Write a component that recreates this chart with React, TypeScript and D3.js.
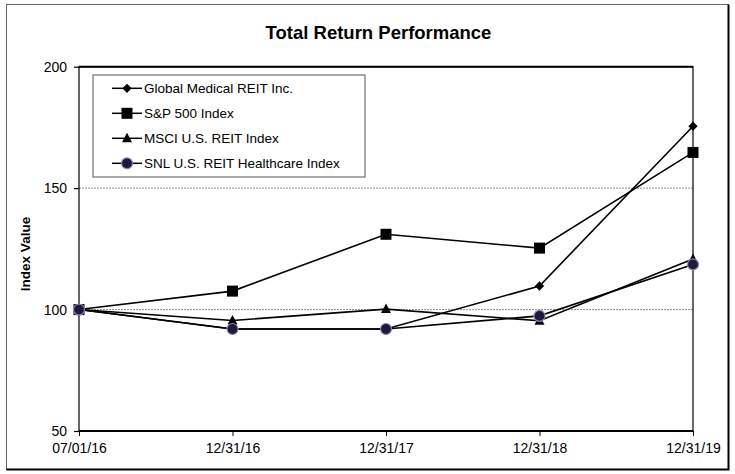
import { FC, useEffect, useRef } from 'react';
import * as d3 from 'd3';

const periods = ['07/01/16', '12/31/16', '12/31/17', '12/31/18', '12/31/19'];
const globalMedical = [100, 92, 92, 109.7, 175.5];
const sp500 = [100, 107.6, 131, 125.3, 164.7];
const msciReit = [100, 95.5, 100.2, 95.4, 120.8];
const snlHealthcare = [100, 92, 92, 97.4, 118.6];
const yTicks = [50, 100, 150, 200];
const gridValues = [100, 150];

type Marker = 'diamond' | 'square' | 'triangle' | 'circle';

interface Series {
  name: string;
  values: number[];
  marker: Marker;
}

const series: Series[] = [
  { name: 'Global Medical REIT Inc.', values: globalMedical, marker: 'diamond' },
  { name: 'S&P 500 Index', values: sp500, marker: 'square' },
  { name: 'MSCI U.S. REIT Index', values: msciReit, marker: 'triangle' },
  { name: 'SNL U.S. REIT Healthcare Index', values: snlHealthcare, marker: 'circle' },
];

const FONT = 'Arial, "Liberation Sans", sans-serif';

const drawMarker = (
  g: d3.Selection<SVGGElement, unknown, null, undefined>,
  marker: Marker,
  cx: number,
  cy: number
) => {
  switch (marker) {
    case 'diamond':
      g.append('path')
        .attr('d', d3.symbol(d3.symbolDiamond2, 55)())
        .attr('transform', `translate(${cx},${cy})`)
        .attr('fill', '#000');
      break;
    case 'square':
      g.append('rect')
        .attr('x', cx - 5.5)
        .attr('y', cy - 5.5)
        .attr('width', 11)
        .attr('height', 11)
        .attr('fill', '#000');
      break;
    case 'triangle':
      g.append('path')
        .attr('d', `M${cx},${cy - 5.5}L${cx + 5},${cy + 4}L${cx - 5},${cy + 4}Z`)
        .attr('fill', '#000');
      break;
    default:
      g.append('circle')
        .attr('cx', cx)
        .attr('cy', cy)
        .attr('r', 5.5)
        .attr('fill', '#1c1b3c')
        .attr('stroke', '#8f86b4')
        .attr('stroke-width', 1.2);
  }
};

const App: FC = () => {
  const svgRef = useRef<SVGSVGElement>(null);

  useEffect(() => {
    if (!svgRef.current) return;
    const svg = d3.select(svgRef.current);
    svg.selectAll('*').remove();

    const left = 79;
    const right = 693;
    const top = 66.7;
    const bottom = 431;

    const x = d3.scalePoint<string>().domain(periods).range([left, right]);
    const y = d3.scaleLinear().domain([50, 200]).range([bottom, top]);

    // Outer frame
    svg.append('rect')
      .attr('x', 6.5).attr('y', 4.5).attr('width', 722).attr('height', 465)
      .attr('fill', '#fff').attr('stroke', '#666').attr('stroke-width', 1);
    svg.append('path')
      .attr('d', 'M728.5,4.5V469.5H6.5')
      .attr('fill', 'none').attr('stroke', '#000').attr('stroke-width', 2);

    // Title
    svg.append('text')
      .attr('x', 378.5).attr('y', 38.5)
      .attr('text-anchor', 'middle')
      .attr('font-family', FONT).attr('font-weight', 'bold').attr('font-size', 18.5)
      .text('Total Return Performance');

    // Gridlines
    svg.selectAll('.grid')
      .data(gridValues)
      .enter()
      .append('line')
      .attr('x1', left).attr('x2', right)
      .attr('y1', d => y(d)).attr('y2', d => y(d))
      .attr('stroke', '#777').attr('stroke-width', 0.8).attr('stroke-dasharray', '2,1');

    // Plot frame
    svg.append('rect')
      .attr('x', left).attr('y', top).attr('width', right - left).attr('height', bottom - top)
      .attr('fill', 'none').attr('stroke', '#000').attr('stroke-width', 1.2);
    svg.append('line')
      .attr('x1', left).attr('x2', right).attr('y1', top).attr('y2', top)
      .attr('stroke', '#000').attr('stroke-width', 2);
    svg.append('line')
      .attr('x1', left).attr('x2', right).attr('y1', bottom).attr('y2', bottom)
      .attr('stroke', '#000').attr('stroke-width', 2.2);

    // Y axis
    const yAxis = svg.append('g')
      .attr('transform', `translate(${left},0)`)
      .call(d3.axisLeft(y).tickValues(yTicks).tickSize(5).tickPadding(7).tickFormat(d3.format('d')));
    yAxis.select('.domain').remove();
    yAxis.selectAll('line').attr('stroke', '#000').attr('stroke-width', 1.2);
    yAxis.selectAll('text').attr('font-family', FONT).attr('font-size', 14).attr('fill', '#000');

    // X axis
    const xAxis = svg.append('g')
      .attr('transform', `translate(0,${bottom})`)
      .call(d3.axisBottom(x).tickSize(5).tickPadding(7));
    xAxis.select('.domain').remove();
    xAxis.selectAll('line').attr('stroke', '#000').attr('stroke-width', 1);
    xAxis.selectAll('text').attr('font-family', FONT).attr('font-size', 14).attr('fill', '#000');

    // Y label
    svg.append('text')
      .attr('transform', 'translate(30,254) rotate(-90)')
      .attr('text-anchor', 'middle')
      .attr('font-family', FONT).attr('font-weight', 'bold').attr('font-size', 13.5)
      .text('Index Value');

    const line = d3.line<number>()
      .x((_, i) => x(periods[i]) as number)
      .y(d => y(d));

    const plot = svg.append('g');
    [...series].reverse().forEach(s => {
      plot.append('path')
        .datum(s.values)
        .attr('fill', 'none')
        .attr('stroke', '#000')
        .attr('stroke-width', 1.6)
        .attr('d', line);
    });
    series.forEach(s => {
      s.values.forEach((v, i) => drawMarker(plot, s.marker, x(periods[i]) as number, y(v)));
    });

    // Legend
    const legend = svg.append('g');
    legend.append('rect')
      .attr('x', 93).attr('y', 75).attr('width', 272).attr('height', 102)
      .attr('fill', '#fff').attr('stroke', '#555').attr('stroke-width', 1);
    series.forEach((s, i) => {
      const cy = 88.3 + i * 25;
      legend.append('line')
        .attr('x1', 112).attr('x2', 142).attr('y1', cy).attr('y2', cy)
        .attr('stroke', '#000').attr('stroke-width', 1.5);
      drawMarker(legend, s.marker, 127, cy);
      legend.append('text')
        .attr('x', 144).attr('y', cy + 5)
        .attr('font-family', FONT).attr('font-size', 13.5)
        .text(s.name);
    });
  }, []);

  return (
    <svg
      ref={svgRef}
      width={735}
      height={474}
      style={{ position: 'absolute', left: 0, top: 0, background: '#fff' }}
    />
  );
};

export default App;
